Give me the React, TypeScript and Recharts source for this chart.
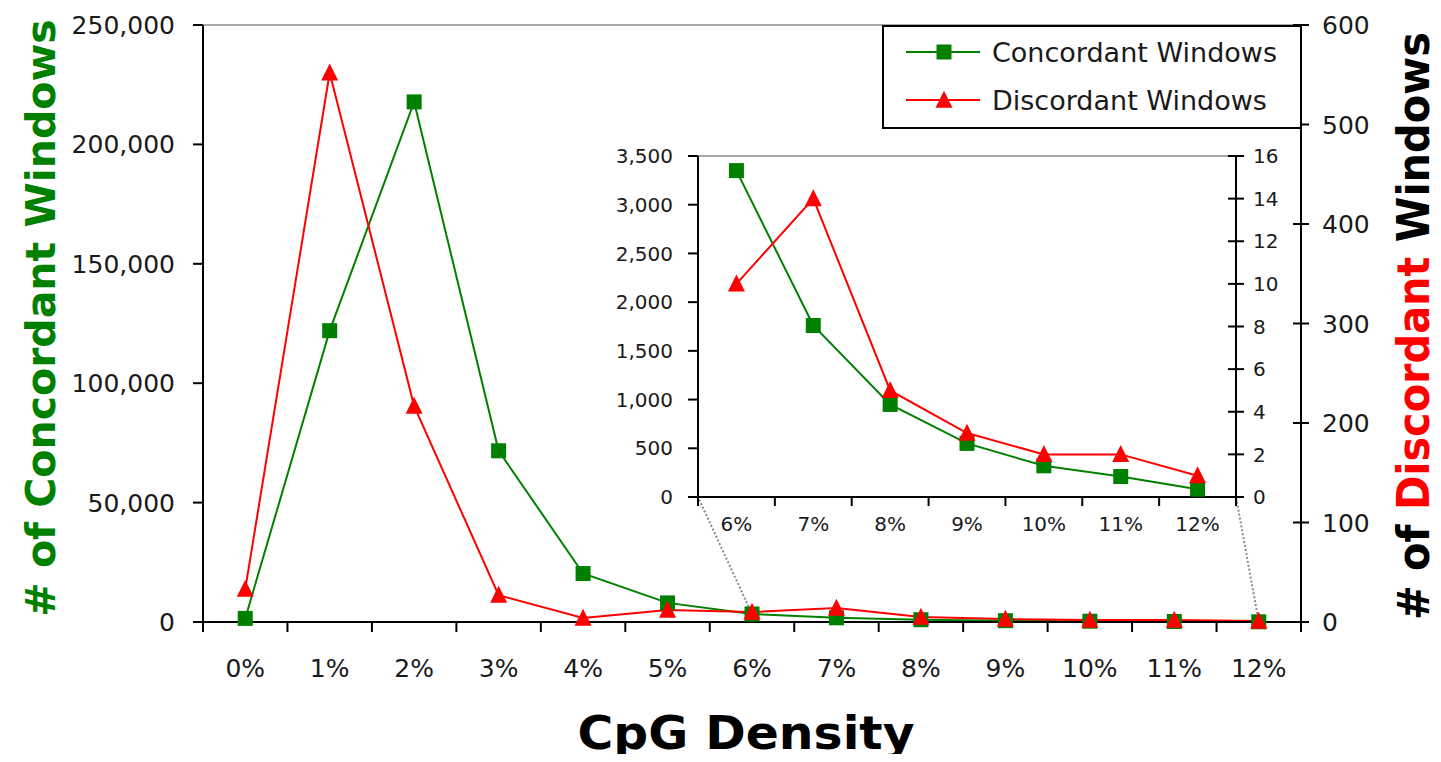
import { LineChart, Line, XAxis, YAxis, ReferenceLine, Legend } from 'recharts';

// CpG density bins
const categories = ['0%', '1%', '2%', '3%', '4%', '5%', '6%', '7%', '8%', '9%', '10%', '11%', '12%'];
const concordant = [1500, 122000, 217800, 71700, 20300, 8000, 3350, 1760, 950, 550, 320, 210, 80];
const discordant = [33, 552, 217, 27, 4, 12, 10, 14, 5, 3, 2, 2, 1];

const leftTicks = [0, 50000, 100000, 150000, 200000, 250000];
const rightTicks = [0, 100, 200, 300, 400, 500, 600];
const insetStart = 6; // inset zooms on 6%..12%
const insetLeftTicks = [0, 500, 1000, 1500, 2000, 2500, 3000, 3500];
const insetRightTicks = [0, 2, 4, 6, 8, 10, 12, 14, 16];

const GREEN = '#008000';
const RED = '#ff0000';
const FONT = '"DejaVu Sans", Verdana, sans-serif';
const TITLE_FONT = '"Comic Sans MS", "DejaVu Sans", sans-serif';

// plot boxes (px) of the main chart and the inset
const MAIN = { left: 203, right: 1301, top: 25, bottom: 622 };
const INSET = { left: 698, right: 1236, top: 156, bottom: 497 };

const halfSteps = (n: number) => Array.from({ length: 2 * n + 1 }, (_, k) => k / 2);
const fmt = (v: number) => v.toLocaleString('en-US');

const mainData = categories.map((name, i) => ({
  x: i + 0.5,
  name,
  concordant: concordant[i],
  discordant: discordant[i],
}));
const insetData = mainData.slice(insetStart).map((d, i) => ({ ...d, x: i + 0.5 }));
const insetLabels = categories.slice(insetStart);

// main-chart data coords of the inset's bottom corners (for the zoom connectors)
const toMainX = (px: number) => ((px - MAIN.left) / (MAIN.right - MAIN.left)) * categories.length;
const toMainY = (py: number) => ((MAIN.bottom - py) / (MAIN.bottom - MAIN.top)) * 250000;

const Square = ({ cx, cy, size, fill }: any) => (
  <rect x={cx - size / 2} y={cy - size / 2} width={size} height={size} fill={fill} />
);
const Triangle = ({ cx, cy, size, fill }: any) => (
  <polygon
    points={`${cx},${cy - size * 0.55} ${cx + size / 2},${cy + size * 0.45} ${cx - size / 2},${cy + size * 0.45}`}
    fill={fill}
  />
);

// ticks at band edges, labels at band centres
const BandTick = ({ x, y, payload, labels, size, tickLen, dy }: any) => {
  const v = payload.value;
  if (Number.isInteger(v)) {
    return <line x1={x} x2={x} y1={y} y2={y + tickLen} stroke='#000' strokeWidth={2} />;
  }
  return (
    <text x={x} y={y + dy} textAnchor='middle' fontSize={size} fontFamily={FONT} fill='#1a1a1a'>
      {labels[Math.floor(v)]}
    </text>
  );
};

const LeftTick = ({ x, y, payload, size, tickLen, gap }: any) => (
  <g>
    <line x1={x - tickLen} x2={x} y1={y} y2={y} stroke='#000' strokeWidth={2} />
    <text x={x - tickLen - gap} y={y} dy='0.36em' textAnchor='end' fontSize={size} fontFamily={FONT} fill='#1a1a1a'>
      {fmt(payload.value)}
    </text>
  </g>
);

const RightTick = ({ x, y, payload, size, half, gap }: any) => (
  <g>
    <line x1={x - half} x2={x + half} y1={y} y2={y} stroke='#000' strokeWidth={2} />
    <text x={x + gap} y={y} dy='0.36em' textAnchor='start' fontSize={size} fontFamily={FONT} fill='#1a1a1a'>
      {fmt(payload.value)}
    </text>
  </g>
);

const LegendBox = () => (
  <svg width={420} height={104}>
    <rect x={1} y={1} width={418} height={102} fill='#fff' stroke='#000' strokeWidth={2} />
    <line x1={24} x2={98} y1={27} y2={27} stroke={GREEN} strokeWidth={2} />
    <Square cx={62} cy={27} size={15} fill={GREEN} />
    <text x={110} y={27} dy='0.36em' fontSize={27} fontFamily={FONT} fill='#1a1a1a'>
      Concordant Windows
    </text>
    <line x1={24} x2={98} y1={75} y2={75} stroke={RED} strokeWidth={2} />
    <Triangle cx={62} cy={75} size={17} fill={RED} />
    <text x={110} y={75} dy='0.36em' fontSize={27} fontFamily={FONT} fill='#1a1a1a'>
      Discordant Windows
    </text>
  </svg>
);

const LeftTitle = () => (
  <text
    x={55}
    y={318}
    transform='rotate(-90 55 318)'
    textAnchor='middle'
    fontSize={41}
    fontWeight='bold'
    fontFamily={TITLE_FONT}
    fill={GREEN}
  >
    # of Concordant Windows
  </text>
);

const RightTitle = () => (
  <text
    x={1429}
    y={326}
    transform='rotate(-90 1429 326)'
    textAnchor='middle'
    fontSize={45}
    fontWeight='bold'
    fontFamily={TITLE_FONT}
    fill='#000'
    textLength={588}
    lengthAdjust='spacingAndGlyphs'
  >
    # of <tspan fill={RED}>Discordant</tspan> Windows
  </text>
);

const BottomTitle = () => (
  <text
    x={746}
    y={749}
    textAnchor='middle'
    fontSize={47}
    fontWeight='bold'
    fontFamily={TITLE_FONT}
    fill='#000'
    textLength={337}
    lengthAdjust='spacingAndGlyphs'
  >
    CpG Density
  </text>
);

export default function App() {
  return (
    <div style={{ position: 'relative', width: 1441, height: 762, margin: -8, overflow: 'hidden', background: '#fff' }}>
      <div style={{ position: 'absolute', left: 0, top: 0 }}>
        <LineChart width={1441} height={762} data={mainData} margin={{ top: MAIN.top, right: 0, bottom: 0, left: 0 }}>
          <XAxis
            dataKey='x'
            type='number'
            domain={[0, categories.length]}
            ticks={halfSteps(categories.length)}
            interval={0}
            height={762 - MAIN.bottom}
            tickSize={0}
            tickMargin={0}
            tickLine={false}
            axisLine={{ stroke: '#000', strokeWidth: 2 }}
            tick={(p: any) => <BandTick {...p} labels={categories} size={25} tickLen={10} dy={55} />}
            label={{ content: () => <BottomTitle /> }}
          />
          <YAxis
            yAxisId='left'
            width={MAIN.left}
            domain={[0, 250000]}
            ticks={leftTicks}
            interval={0}
            tickSize={0}
            tickMargin={0}
            tickLine={false}
            axisLine={{ stroke: '#000', strokeWidth: 2 }}
            tick={(p: any) => <LeftTick {...p} size={25} tickLen={10} gap={18} />}
            label={{ content: () => <LeftTitle /> }}
          />
          <YAxis
            yAxisId='right'
            orientation='right'
            width={1441 - MAIN.right}
            domain={[0, 600]}
            ticks={rightTicks}
            interval={0}
            tickSize={0}
            tickMargin={0}
            tickLine={false}
            axisLine={{ stroke: '#000', strokeWidth: 2 }}
            tick={(p: any) => <RightTick {...p} size={25} half={8} gap={21} />}
            label={{ content: () => <RightTitle /> }}
          />
          <ReferenceLine yAxisId='left' y={250000} stroke='#a8a8a8' strokeWidth={2} />
          <ReferenceLine
            yAxisId='left'
            ifOverflow='visible'
            segment={[
              { x: insetStart + 0.5, y: concordant[insetStart] },
              { x: toMainX(INSET.left), y: toMainY(INSET.bottom) },
            ]}
            stroke='#8a8a8a'
            strokeWidth={2}
            strokeDasharray='2 2'
          />
          <ReferenceLine
            yAxisId='left'
            ifOverflow='visible'
            segment={[
              { x: categories.length - 0.5, y: concordant[categories.length - 1] },
              { x: toMainX(INSET.right), y: toMainY(INSET.bottom) },
            ]}
            stroke='#8a8a8a'
            strokeWidth={2}
            strokeDasharray='2 2'
          />
          <Line
            yAxisId='left'
            dataKey='concordant'
            type='linear'
            stroke={GREEN}
            strokeWidth={2}
            isAnimationActive={false}
            activeDot={false}
            dot={(p: any) => <Square key={`c${p.index}`} cx={p.cx} cy={p.cy} size={15} fill={GREEN} />}
          />
          <Line
            yAxisId='right'
            dataKey='discordant'
            type='linear'
            stroke={RED}
            strokeWidth={2}
            isAnimationActive={false}
            activeDot={false}
            dot={(p: any) => <Triangle key={`d${p.index}`} cx={p.cx} cy={p.cy} size={17} fill={RED} />}
          />
          <Legend
            layout='horizontal'
            align='center'
            verticalAlign='middle'
            wrapperStyle={{ left: 882, top: MAIN.top, width: 420, height: 104 }}
            content={() => <LegendBox />}
          />
        </LineChart>
      </div>

      {/* zoomed inset for 6%..12% */}
      <div style={{ position: 'absolute', left: 600, top: 140 }}>
        <LineChart
          width={700}
          height={410}
          data={insetData}
          margin={{ top: INSET.top - 140, right: 0, bottom: 0, left: 0 }}
        >
          <XAxis
            dataKey='x'
            type='number'
            domain={[0, insetLabels.length]}
            ticks={halfSteps(insetLabels.length)}
            interval={0}
            height={410 - (INSET.bottom - 140)}
            tickSize={0}
            tickMargin={0}
            tickLine={false}
            axisLine={{ stroke: '#000', strokeWidth: 2 }}
            tick={(p: any) => <BandTick {...p} labels={insetLabels} size={20} tickLen={9} dy={34} />}
          />
          <YAxis
            yAxisId='left'
            width={INSET.left - 600}
            domain={[0, 3500]}
            ticks={insetLeftTicks}
            interval={0}
            tickSize={0}
            tickMargin={0}
            tickLine={false}
            axisLine={{ stroke: '#000', strokeWidth: 2 }}
            tick={(p: any) => <LeftTick {...p} size={20} tickLen={10} gap={15} />}
          />
          <YAxis
            yAxisId='right'
            orientation='right'
            width={1300 - INSET.right}
            domain={[0, 16]}
            ticks={insetRightTicks}
            interval={0}
            tickSize={0}
            tickMargin={0}
            tickLine={false}
            axisLine={{ stroke: '#000', strokeWidth: 2 }}
            tick={(p: any) => <RightTick {...p} size={20} half={8} gap={17} />}
          />
          <ReferenceLine yAxisId='left' y={3500} stroke='#a8a8a8' strokeWidth={2} />
          <Line
            yAxisId='left'
            dataKey='concordant'
            type='linear'
            stroke={GREEN}
            strokeWidth={2}
            isAnimationActive={false}
            activeDot={false}
            dot={(p: any) => <Square key={`ic${p.index}`} cx={p.cx} cy={p.cy} size={15} fill={GREEN} />}
          />
          <Line
            yAxisId='right'
            dataKey='discordant'
            type='linear'
            stroke={RED}
            strokeWidth={2}
            isAnimationActive={false}
            activeDot={false}
            dot={(p: any) => <Triangle key={`id${p.index}`} cx={p.cx} cy={p.cy} size={17} fill={RED} />}
          />
        </LineChart>
      </div>

      {/* cropped red dashed underline at the very top */}
      <svg style={{ position: 'absolute', left: 0, top: 0 }} width={1441} height={6}>
        <line x1={679} x2={932} y1={1.5} y2={1.5} stroke='#ff3300' strokeWidth={3} strokeDasharray='12 11.7' />
      </svg>
    </div>
  );
}
